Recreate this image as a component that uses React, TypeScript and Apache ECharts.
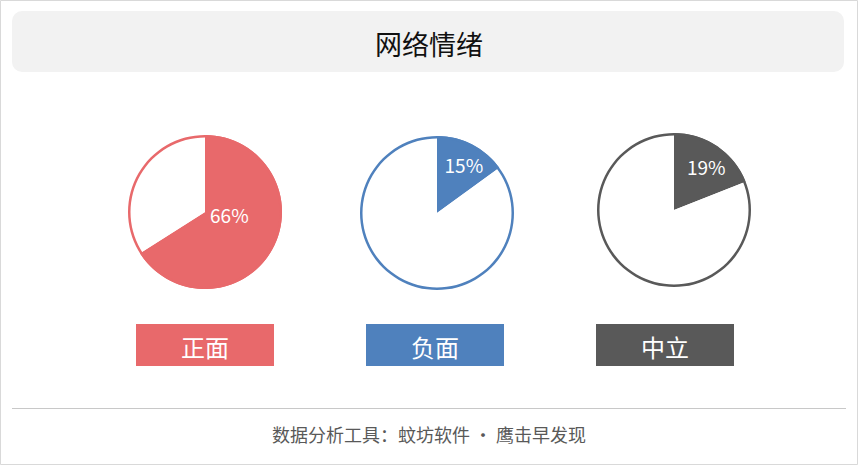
import { useEffect, useRef } from "react"
import * as echarts from "echarts"

const categories = ["正面", "负面", "中立"]
const shares = [66, 15, 19]
const colors = ["#e8696b", "#4f81bd", "#595959"]
const chartTitle = "网络情绪"
const footerText = "数据分析工具：蚊坊软件 · 鹰击早发现"

// layout: pie centres, tag box centres and label nudges
const centers: [number, number][] = [
  [205, 212],
  [437, 213],
  [674, 210],
]
const tagCenters = [205, 435, 665]
const labelNudge = [
  [-12, -17],
  [8, -12],
  [9, -9],
]
const RADIUS = 77
const FONT = "'Noto Sans CJK SC', 'Noto Sans', sans-serif"

export default function App() {
  const hostRef = useRef<HTMLDivElement>(null)

  useEffect(() => {
    document.body.style.margin = "0"
    const el = hostRef.current
    if (!el) return
    const chart = echarts.init(el, undefined, { renderer: "svg" })

    const pieSeries = categories.flatMap((name, i) => [
      {
        type: "pie",
        name,
        center: centers[i],
        radius: [0, RADIUS],
        startAngle: 90,
        clockwise: true,
        silent: true,
        z: 2,
        labelLine: { show: false },
        labelLayout: { dx: labelNudge[i][0], dy: labelNudge[i][1] },
        data: [
          {
            name,
            value: shares[i],
            itemStyle: { color: colors[i] },
            label: {
              show: true,
              position: "inside",
              formatter: "{c}%",
              color: "#fff",
              fontSize: 19,
              fontFamily: FONT,
            },
          },
          {
            name: "其他",
            value: 100 - shares[i],
            itemStyle: { color: "#fff" },
            label: { show: false },
          },
        ],
      },
      {
        type: "pie",
        name: name + "边框",
        center: centers[i],
        radius: [RADIUS - 2.5, RADIUS],
        silent: true,
        z: 3,
        label: { show: false },
        labelLine: { show: false },
        data: [{ value: 1, itemStyle: { color: colors[i] } }],
      },
    ])

    const tagGraphics = categories.flatMap((name, i) => [
      {
        type: "rect",
        shape: { x: tagCenters[i] - 69, y: 324, width: 138, height: 42 },
        style: { fill: colors[i] },
      },
      {
        type: "text",
        x: tagCenters[i],
        y: 346,
        style: {
          text: name,
          fill: "#fff",
          font: `24px ${FONT}`,
          textAlign: "center",
          textVerticalAlign: "middle",
        },
      },
    ])

    chart.setOption({
      animation: false,
      backgroundColor: "#fff",
      title: [
        {
          text: chartTitle,
          left: "center",
          top: 25,
          textStyle: { fontSize: 27, fontWeight: "normal", color: "#111", fontFamily: FONT },
        },
        {
          text: footerText,
          left: "center",
          top: 420,
          textStyle: { fontSize: 18, fontWeight: "normal", color: "#595959", fontFamily: FONT },
        },
      ],
      graphic: [
        {
          type: "rect",
          z: -10,
          shape: { x: 0.5, y: 0.5, width: 857, height: 464 },
          style: { fill: "#fff", stroke: "#d9d9d9", lineWidth: 1 },
        },
        {
          type: "rect",
          z: -5,
          shape: { x: 12, y: 11, width: 832, height: 61, r: 10 },
          style: { fill: "#f2f2f2" },
        },
        {
          type: "line",
          shape: { x1: 12, y1: 408.5, x2: 846, y2: 408.5 },
          style: { stroke: "#c8c8c8", lineWidth: 1 },
        },
        ...tagGraphics,
      ],
      series: pieSeries,
    })

    return () => chart.dispose()
  }, [])

  return <div ref={hostRef} style={{ width: 858, height: 465 }} />
}
